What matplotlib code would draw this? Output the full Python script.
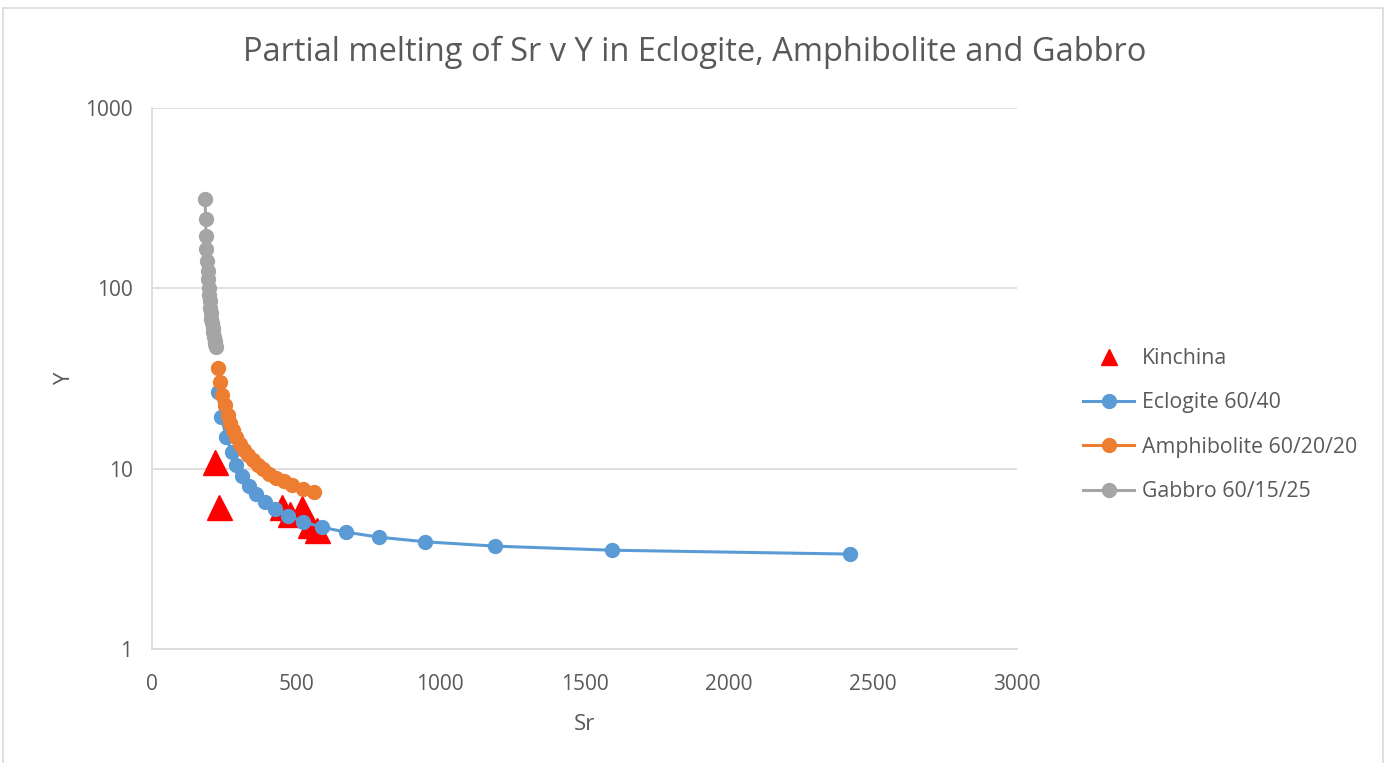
import matplotlib
matplotlib.use("Agg")
import matplotlib.pyplot as plt
from matplotlib.lines import Line2D
from matplotlib.patches import Rectangle

# Kinchina samples (Sr, Y)
kin_sr = [218, 231, 450, 478, 520, 548, 572]
kin_y = [10.9, 6.1, 6.15, 5.6, 6.05, 4.9, 4.55]

# Eclogite 60/40 melting curve
ecl_sr = [2421, 1595, 1189, 948, 788, 674, 589, 523, 471, 428,
          392, 361, 335, 313, 293, 276, 257, 241, 228]
ecl_y = [3.36, 3.53, 3.72, 3.93, 4.17, 4.44, 4.74, 5.09, 5.49, 5.97,
         6.53, 7.21, 8.05, 9.11, 10.49, 12.37, 15.06, 19.25, 26.67]

# Amphibolite 60/20/20 melting curve
amp_sr = [562, 522, 487, 457, 430, 406, 385, 366, 349, 333,
          318, 305, 293, 282, 271, 262, 253, 244, 236, 229]
amp_y = [7.43, 7.75, 8.11, 8.50, 8.92, 9.39, 9.92, 10.51, 11.17, 11.91,
         12.77, 13.76, 14.92, 16.28, 17.93, 19.94, 22.46, 25.71, 30.07, 36.19]

# Gabbro 60/15/25 melting curve
gab_sr = [184, 186, 187, 189, 191, 193, 195, 196, 198, 200,
          202, 204, 206, 208, 211, 213, 215, 217, 220, 222]
gab_y = [314, 242, 196, 165, 142, 125, 112, 101, 92, 85,
         78, 73, 68, 64, 60, 57, 54, 51, 49, 47]

labels = ["Kinchina", "Eclogite 60/40", "Amphibolite 60/20/20", "Gabbro 60/15/25"]
colors = ["#FF0000", "#5B9BD5", "#ED7D31", "#A5A5A5"]
TXT = "#595959"
GRID = "#D9D9D9"

plt.rcParams["font.family"] = ["Open Sans", "DejaVu Sans"]

fig = plt.figure(figsize=(13.86, 7.63), dpi=100)
fig.patches.append(Rectangle((3 / 1386, -0.05), 1 - 6 / 1386, 1.05 - 8 / 763,
                             transform=fig.transFigure, fill=False,
                             edgecolor="#D9D9D9", linewidth=1.2))
ax = fig.add_axes([152 / 1386, 1 - 649 / 763, 865 / 1386, 541 / 763])

ax.plot(kin_sr, kin_y, ls="none", marker="^", ms=18, color=colors[0], zorder=3)
ax.plot(ecl_sr, ecl_y, color=colors[1], lw=2.2, marker="o", ms=10, zorder=4)
ax.plot(amp_sr, amp_y, color=colors[2], lw=2.2, marker="o", ms=10, zorder=5)
ax.plot(gab_sr, gab_y, color=colors[3], lw=2.2, marker="o", ms=10, zorder=6)

ax.set_yscale("log")
ax.set_ylim(1, 1000)
ax.set_xlim(0, 3000)
ax.set_xticks(range(0, 3001, 500))
ax.set_yticks([1, 10, 100, 1000])
ax.set_yticklabels(["1", "10", "100", "1000"])
ax.minorticks_off()
ax.tick_params(length=0, labelsize=15, labelcolor=TXT)
ax.tick_params(axis="x", pad=18)
ax.tick_params(axis="y", pad=14)
ax.yaxis.grid(True, color=GRID, lw=1.2)
ax.set_axisbelow(True)
for s in ["top", "right"]:
    ax.spines[s].set_visible(False)
for s in ["left", "bottom"]:
    ax.spines[s].set_color(GRID)
    ax.spines[s].set_linewidth(1.2)

ax.set_xlabel("Sr", fontsize=16, color=TXT, labelpad=14)
ax.set_ylabel("Y", fontsize=16, color=TXT, labelpad=7)
fig.text(0.501, 1 - 52 / 763, "Partial melting of Sr v Y in Eclogite, Amphibolite and Gabbro",
         ha="center", va="center", fontsize=23.5, color=TXT)

handles = [Line2D([], [], ls="none", marker="^", ms=12, color=colors[0])]
for c in colors[1:]:
    handles.append(Line2D([], [], color=c, lw=2.2, marker="o", ms=10))
leg = fig.legend(handles, labels, loc="center left",
                 bbox_to_anchor=(1064 / 1386, 1 - 425 / 763), frameon=False,
                 fontsize=15.3, handlelength=2.4, handletextpad=0.35, labelspacing=1.1)
for t in leg.get_texts():
    t.set_color(TXT)

fig.savefig("out.png", dpi=100)
